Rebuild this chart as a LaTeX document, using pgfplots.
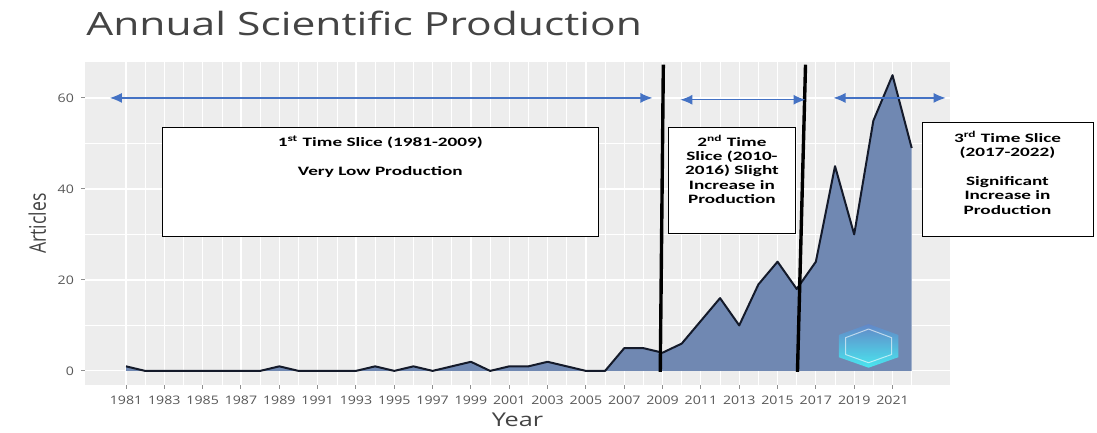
\documentclass[border=0pt]{standalone}
\usepackage{fontspec}
\usepackage{graphicx}
\setmainfont[FakeStretch=1.33]{Open Sans}
\newfontfamily\plainos{Open Sans}
\newfontfamily\tickos[FakeStretch=1.2]{Open Sans}
\newfontfamily\carlito[FakeStretch=1.5]{Carlito}
\usepackage{pgfplots}
\pgfplotsset{compat=1.18}
\usetikzlibrary{arrows.meta}
\definecolor{panel}{HTML}{EDEDED}
\definecolor{areafill}{HTML}{7088B2}
\definecolor{arrowblue}{HTML}{4472C4}
\definecolor{txtgray}{HTML}{444444}
\definecolor{linecol}{HTML}{141A2A}
\pgfplotstableread{
year articles
1981 1
1982 0
1983 0
1984 0
1985 0
1986 0
1987 0
1988 0
1989 1
1990 0
1991 0
1992 0
1993 0
1994 1
1995 0
1996 1
1997 0
1998 1
1999 2
2000 0
2001 1
2002 1
2003 2
2004 1
2005 0
2006 0
2007 5
2008 5
2009 4
2010 6
2011 11
2012 16
2013 10
2014 19
2015 24
2016 18
2017 24
2018 45
2019 30
2020 55
2021 65
2022 49
}\prodtable
\begin{document}
\begin{tikzpicture}[x=0.5pt,y=0.5pt]
\path (0,0) rectangle (1097,425);
\node[anchor=base west, inner sep=0pt, font=\fontsize{16}{19}\selectfont, text=txtgray] at (86,389) {Annual Scientific Production};
\begin{axis}[
  at={(42.5pt,20pt)}, anchor=south west, scale only axis,
  width=432.5pt, height=161.5pt,
  xmin=1978.86, xmax=2024, ymin=-3.1, ymax=67.9,
  axis background/.style={fill=panel},
  axis line style={draw=none},
  xtick={1981,1983,...,2021}, minor xtick={1982,1984,...,2022},
  ytick={0,20,40,60}, minor ytick={10,30,50},
  xtick pos=left, ytick pos=left,
  grid=both,
  major grid style={white, line width=0.6pt},
  minor grid style={white, line width=0.3pt},
  tick align=outside, major tick length=2pt, minor tick length=0pt,
  tick style={txtgray!60, line width=0.5pt},
  /pgf/number format/1000 sep={},
  /pgf/number format/assume math mode=true,
  tick label style={font=\tickos\fontsize{5.9}{7}\selectfont, text=txtgray!90},
  xlabel={Year},
  ylabel={\scalebox{1}[1.3]{\plainos Articles}},
  label style={font=\fontsize{9.5}{11}\selectfont, text=txtgray},
  xlabel style={yshift=3pt},
  ylabel style={font=\fontsize{8.8}{10}\selectfont, yshift=-1pt},
  clip=false,
]
\addplot[fill=areafill, draw=none] table[x=year,y=articles] {\prodtable} \closedcycle;
\addplot[line width=1pt, color=linecol, line join=round] table[x=year,y=articles] {\prodtable};
% logo watermark
\shade[top color=arrowblue!85, bottom color=cyan!75, opacity=0.8]
  (axis cs:2019.75,10.3) -- (axis cs:2021.3,7.9) -- (axis cs:2021.3,3.0) -- (axis cs:2019.75,0.7) -- (axis cs:2018.2,3.0) -- (axis cs:2018.2,7.9) -- cycle;
\draw[white, opacity=0.6, line width=0.5pt]
  (axis cs:2019.75,9.2) -- (axis cs:2020.95,7.3) -- (axis cs:2020.95,3.6) -- (axis cs:2019.75,1.8) -- (axis cs:2018.55,3.6) -- (axis cs:2018.55,7.3) -- cycle;
% vertical separators
\draw[line width=1.7pt, black] (axis cs:2009.04,67.3) -- (axis cs:2008.88,-0.2);
\draw[line width=1.7pt, black] (axis cs:2016.46,67.3) -- (axis cs:2016.04,-0.2);
% arrows
\draw[arrowblue, line width=0.6pt, {Latex[length=6pt,width=5pt]}-{Latex[length=6pt,width=5pt]}] (axis cs:1980.16,60) -- (axis cs:2008.47,60);
\draw[arrowblue, line width=0.6pt, {Latex[length=6pt,width=5pt]}-{Latex[length=6pt,width=5pt]}] (axis cs:2009.93,59.6) -- (axis cs:2016.46,59.6);
\draw[arrowblue, line width=0.6pt, {Latex[length=6pt,width=5pt]}-{Latex[length=6pt,width=5pt]}] (axis cs:2017.92,60) -- (axis cs:2023.77,60);
% boxes
\draw[fill=white, draw=black, line width=0.5pt] (axis cs:1982.88,53.4) rectangle (axis cs:2005.65,29.45);
\node[anchor=north, align=center, inner sep=0pt, font=\carlito\bfseries\fontsize{6.4}{7.2}\selectfont] at (axis cs:1994.27,51.7)
  {1\textsuperscript{st} Time Slice (1981-2009)\\[7pt] Very Low Production};
\draw[fill=white, draw=black, line width=0.5pt] (axis cs:2009.3,53.6) rectangle (axis cs:2015.93,30.3);
\node[anchor=north, align=center, inner sep=0pt, font=\carlito\bfseries\fontsize{6.4}{7.2}\selectfont] at (axis cs:2012.62,52.0)
  {2\textsuperscript{nd} Time\\Slice (2010-\\2016) Slight\\Increase in\\Production};
\draw[fill=white, draw=black, line width=0.5pt] (axis cs:2022.57,54.5) rectangle (axis cs:2031.5,29.45);
\node[anchor=north, align=center, inner sep=0pt, font=\carlito\bfseries\fontsize{6.4}{7.2}\selectfont] at (axis cs:2027.0,52.8)
  {3\textsuperscript{rd} Time Slice\\(2017-2022)\\[7pt]Significant\\Increase in\\Production};
\end{axis}
\end{tikzpicture}
\end{document}
